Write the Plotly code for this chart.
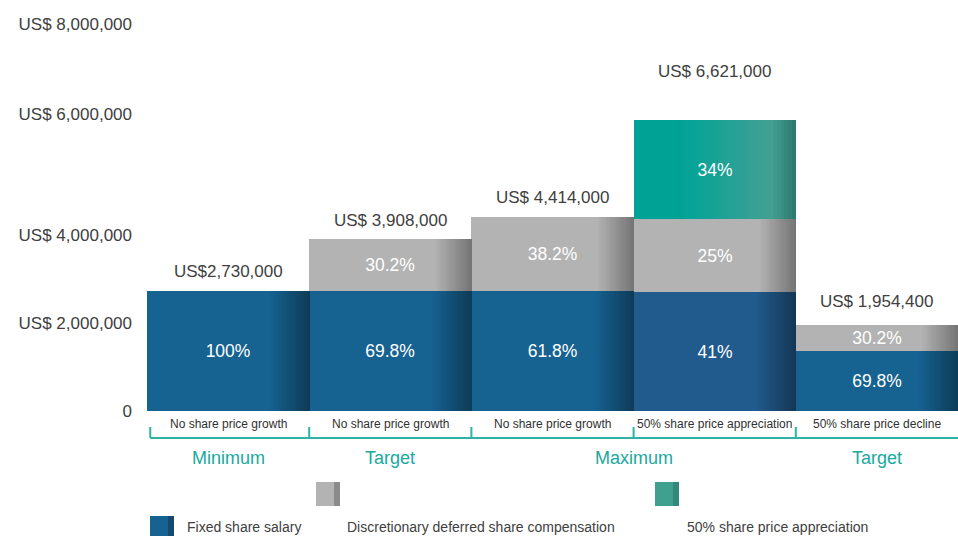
import plotly.graph_objects as go

# ---------------- data ----------------
bar_ids = [0, 1, 2, 3, 4]
totals = [2730000, 3908000, 4414000, 6621000, 1954400]
total_labels = ["US$2,730,000", "US$ 3,908,000", "US$ 4,414,000", "US$ 6,621,000", "US$ 1,954,400"]
fixed_pct = [100, 69.8, 61.8, 41, 69.8]
deferred_pct = [0, 30.2, 38.2, 25, 30.2]
appreciation_pct = [0, 0, 0, 34, 0]
scenario_labels = ["No share price growth", "No share price growth", "No share price growth",
                   "50% share price appreciation", "50% share price decline"]
group_labels = ["Minimum", "Target", "Maximum", "Target"]
group_bars = [[0], [1], [2, 3], [4]]
ytick_labels = ["0", "US$ 2,000,000", "US$ 4,000,000", "US$ 6,000,000", "US$ 8,000,000"]
legend_labels = ["Fixed share salary", "Discretionary deferred share compensation",
                 "50% share price appreciation"]

# ---------------- layout / style constants ----------------
ytick_pos = [0, 2.0e6, 4.0e6, 6.74e6, 8.80e6]   # where the reference prints its axis labels
total_label_shift = [19, 19, 19, 48, 24]
FONT = "Liberation Sans, Arial, sans-serif"
TXT = "#404040"
TEAL_TXT = "#1aa99c"
LINE_TEAL = "#2db3a6"
PLOT_L, PLOT_B = 147, 411   # plot area left / bottom on the page
PX_PER_M = 44.0

blue_cols = ["#166291", "#166291", "#166291", "#215a8c", "#166291"]
grey_col = "#b3b3b3"

fixed = [t * p / 100 for t, p in zip(totals, fixed_pct)]
deferred = [t * p / 100 for t, p in zip(totals, deferred_pct)]
appreciation = [t * p / 100 for t, p in zip(totals, appreciation_pct)]
base_def = fixed
base_app = [a + b for a, b in zip(fixed, deferred)]


def hex2rgb(h):
    h = h.lstrip("#")
    return tuple(int(h[i:i + 2], 16) for i in (0, 2, 4))


def rgb2str(c):
    return "rgb(%d,%d,%d)" % tuple(int(round(v)) for v in c)


def darken(h, a):
    r, g, b = hex2rgb(h)
    return rgb2str((r * (1 - a), g * (1 - a), b * (1 - a)))


def interp_stops(stops, f):
    for (f0, c0), (f1, c1) in zip(stops[:-1], stops[1:]):
        if f0 <= f <= f1:
            t = 0 if f1 == f0 else (f - f0) / (f1 - f0)
            a, b = hex2rgb(c0), hex2rgb(c1)
            return rgb2str(tuple(a[i] + (b[i] - a[i]) * t for i in range(3)))
    return stops[-1][1]


def pct_text(p):
    return "" if p == 0 else ("%g%%" % p)


fig = go.Figure()

# main segments
fig.add_trace(go.Bar(x=bar_ids, y=fixed, base=[0] * 5, width=1, offset=-0.5,
                     marker=dict(color=blue_cols, line=dict(width=0)), name=legend_labels[0]))
fig.add_trace(go.Bar(x=bar_ids, y=deferred, base=base_def, width=1, offset=-0.5,
                     marker=dict(color=grey_col, line=dict(width=0)), name=legend_labels[1]))
fig.add_trace(go.Bar(x=bar_ids, y=appreciation, base=base_app, width=1, offset=-0.5,
                     marker=dict(color="#00a296", line=dict(width=0)), name=legend_labels[2]))

# right-edge shading (gradient emulation)
N = 16
for layer, vals, bases, start in [("blue", fixed, [0] * 5, 0.76),
                                  ("grey", deferred, base_def, 0.78)]:
    for k in range(N):
        f0 = start + (1 - start) * k / N
        dw = (1 - start) / N
        a = 0.38 * ((k + 1) / N) if layer == "blue" else 0.34 * ((k + 1) / N)
        cols = [darken(blue_cols[i] if layer == "blue" else grey_col, a) for i in range(5)]
        fig.add_trace(go.Bar(x=bar_ids, y=vals, base=bases, width=dw * 1.15, offset=-0.5 + f0,
                             marker=dict(color=cols, line=dict(width=0)),
                             hoverinfo="skip", showlegend=False))

teal_stops = [(0.0, "#00a296"), (0.35, "#06a397"), (0.85, "#42a093"), (1.0, "#2c786a")]
NT = 30
for k in range(NT):
    f0 = 0.3 + 0.7 * k / NT
    dw = 0.7 / NT
    col = interp_stops(teal_stops, f0 + dw / 2)
    fig.add_trace(go.Bar(x=bar_ids, y=appreciation, base=base_app, width=dw * 1.15, offset=-0.5 + f0,
                         marker=dict(color=col, line=dict(width=0)),
                         hoverinfo="skip", showlegend=False))

# percentage text on top (transparent bars carrying the text)
for vals, bases, pcts in [(fixed, [0] * 5, fixed_pct), (deferred, base_def, deferred_pct),
                          (appreciation, base_app, appreciation_pct)]:
    fig.add_trace(go.Bar(x=bar_ids, y=vals, base=bases, width=1, offset=-0.5,
                         marker=dict(color="rgba(0,0,0,0)", line=dict(width=0)),
                         text=[pct_text(p) for p in pcts], textposition="inside",
                         insidetextanchor="middle", textangle=0, constraintext="none",
                         textfont=dict(family=FONT, size=17.5, color="white"),
                         hoverinfo="skip", showlegend=False))

annotations = []
# totals above bars
for i, t in enumerate(totals):
    annotations.append(dict(x=bar_ids[i], y=t, xref="x", yref="y", text=total_labels[i],
                            showarrow=False, yanchor="middle", yshift=total_label_shift[i],
                            font=dict(family=FONT, size=17, color=TXT)))
# scenario labels
for i, s in enumerate(scenario_labels):
    annotations.append(dict(x=bar_ids[i], y=0, xref="x", yref="paper", text=s, showarrow=False,
                            yanchor="middle", yshift=-13,
                            font=dict(family=FONT, size=12, color="#303030")))
# group labels
for g, bars in zip(group_labels, group_bars):
    xc = sum(bar_ids[b] for b in bars) / len(bars)
    annotations.append(dict(x=xc, y=0, xref="x", yref="paper", text=g, showarrow=False,
                            yanchor="middle", yshift=-47,
                            font=dict(family=FONT, size=18, color=TEAL_TXT)))

shapes = []
# bracket line
shapes.append(dict(type="line", xref="x", yref="paper", ysizemode="pixel", yanchor=0,
                   x0=-0.48, x1=4.5, y0=-27, y1=-27, line=dict(color=LINE_TEAL, width=2)))
for xb in [-0.48, 0.5, 1.5, 2.5, 3.5]:
    shapes.append(dict(type="line", xref="x", yref="paper", ysizemode="pixel", yanchor=0,
                       x0=xb, x1=xb, y0=-16, y1=-27, line=dict(color=LINE_TEAL, width=2)))

# legend (custom placement as in reference; page pixel positions)
legend_items = [
    (150, 516, "#166291", "#1a3e5c", 185),
    (316, 482, "#b3b3b3", "#7a7a7a", 345),
    (655, 482, "#3fa08f", "#2f7d6f", 685),
]
for (lx, ly, c, cd, tx), lab in zip(legend_items, legend_labels):
    shapes.append(dict(type="rect", xref="paper", yref="paper", xsizemode="pixel", ysizemode="pixel",
                       xanchor=0, yanchor=0, x0=lx - PLOT_L, x1=lx - PLOT_L + 24,
                       y0=-(ly - PLOT_B), y1=-(ly + 24 - PLOT_B),
                       fillcolor=c, line=dict(width=0), layer="above"))
    shapes.append(dict(type="rect", xref="paper", yref="paper", xsizemode="pixel", ysizemode="pixel",
                       xanchor=0, yanchor=0, x0=lx - PLOT_L + 18, x1=lx - PLOT_L + 24,
                       y0=-(ly - PLOT_B), y1=-(ly + 24 - PLOT_B),
                       fillcolor=cd, opacity=0.7, line=dict(width=0), layer="above"))
    annotations.append(dict(x=0, y=0, xref="paper", yref="paper", xanchor="left", yanchor="middle",
                            xshift=tx - PLOT_L, yshift=-(527 - PLOT_B), text=lab, showarrow=False,
                            font=dict(family=FONT, size=14, color=TXT)))

W, H = 958, 536
fig.update_layout(
    width=W, height=H, autosize=False,
    margin=dict(l=PLOT_L, r=0, t=0, b=H - PLOT_B, pad=0),
    barmode="overlay", bargap=0,
    plot_bgcolor="white", paper_bgcolor="white",
    showlegend=False,
    xaxis=dict(range=[-0.5, 4.5], visible=False, fixedrange=True),
    yaxis=dict(range=[0, PLOT_B / PX_PER_M * 1e6], tickvals=ytick_pos, ticktext=ytick_labels,
               showgrid=False, zeroline=False, showline=False, ticks="",
               ticklabelstandoff=14,
               tickfont=dict(family=FONT, size=17, color=TXT), fixedrange=True),
    annotations=annotations, shapes=shapes,
)

fig.write_html("out.html", config={"displayModeBar": False},
               post_script="document.body.style.margin='0';document.body.style.overflow='hidden';")
